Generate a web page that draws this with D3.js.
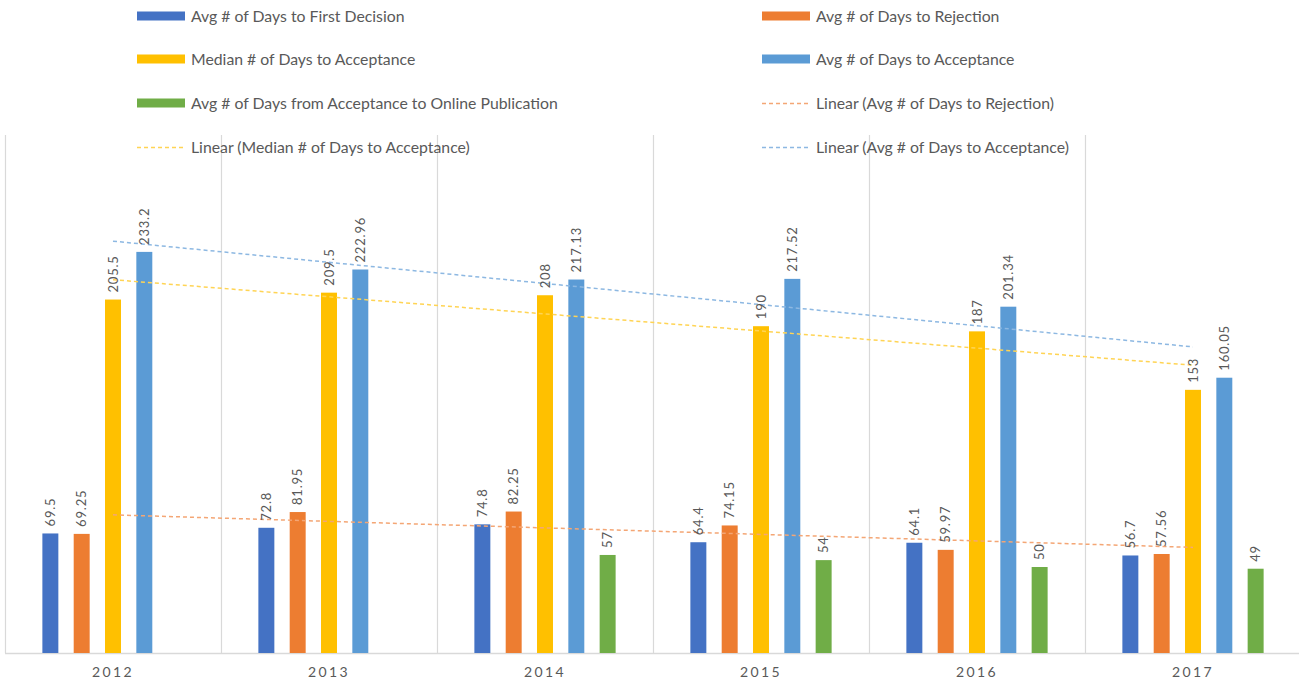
<!DOCTYPE html>
<html>
<head>
<meta charset="utf-8">
<script src="https://cdn.jsdelivr.net/npm/d3@7"></script>
<style>
  html, body { margin: 0; padding: 0; background: #fff; }
  svg { display: block; font-family: Lato, "Open Sans", sans-serif; }
</style>
</head>
<body>
<svg id="chart" width="1299" height="684"></svg>
<script>
// Review turnaround times by year
const years = ["2012", "2013", "2014", "2015", "2016", "2017"];
const firstDecision = [69.5, 72.8, 74.8, 64.4, 64.1, 56.7];
const rejection = [69.25, 81.95, 82.25, 74.15, 59.97, 57.56];
const medianAcceptance = [205.5, 209.5, 208, 190, 187, 153];
const avgAcceptance = [233.2, 222.96, 217.13, 217.52, 201.34, 160.05];
const toPublication = [null, null, 57, 54, 50, 49];

const seriesNames = [
  "Avg # of Days to First Decision",
  "Avg # of Days to Rejection",
  "Median # of Days to Acceptance",
  "Avg # of Days to Acceptance",
  "Avg # of Days from Acceptance to Online Publication"
];
const seriesValues = [firstDecision, rejection, medianAcceptance, avgAcceptance, toPublication];
const colors = ["#4472C4", "#ED7D31", "#FFC000", "#5B9BD5", "#70AD47"];
const trendColors = ["#F4A675", "#FFD454", "#8DB8E2"];
const trendSeries = [1, 2, 3]; // rejection, median, avg acceptance

const svg = d3.select("#chart");
const textColor = "#595959";
const gridColor = "#D9D9D9";

const plotTop = 135, baseline = 653;
const x0 = d3.scaleBand().domain(years).range([5, 1301]).padding(0);
const y = d3.scaleLinear().domain([0, 300]).range([baseline, baseline - 300 * 1.72]);
const x1 = d3.scaleBand().domain(d3.range(5)).range([-78.3, 78.3]).paddingInner(0.49).paddingOuter(0.245);

// vertical category gridlines
svg.append("g").selectAll("line")
  .data(years)
  .join("line")
  .attr("x1", d => x0(d) + 0.5).attr("x2", d => x0(d) + 0.5)
  .attr("y1", plotTop).attr("y2", baseline)
  .attr("stroke", gridColor).attr("stroke-width", 1.2);

// category axis
const xAxis = d3.axisBottom(x0).tickSize(0).tickPadding(14);
const axisG = svg.append("g").attr("transform", `translate(0,${baseline})`).call(xAxis);
axisG.select(".domain").attr("stroke", gridColor).attr("stroke-width", 1.5).attr("d", "M5,0.5H1299");
axisG.selectAll("text")
  .attr("fill", textColor)
  .style("font-size", "14px")
  .style("letter-spacing", "2.4px")
  .style("font-family", "Lato, sans-serif");

// bars
const flat = [];
seriesValues.forEach((vals, s) => vals.forEach((v, i) => {
  if (v !== null) flat.push({ s, year: years[i], v });
}));

const barsG = svg.append("g");
barsG.selectAll("rect")
  .data(flat)
  .join("rect")
  .attr("x", d => x0(d.year) + x0.bandwidth() / 2 + x1(d.s))
  .attr("width", x1.bandwidth())
  .attr("y", d => y(d.v))
  .attr("height", d => baseline - y(d.v))
  .attr("fill", d => colors[d.s]);

// linear trendlines (least squares over category index)
function fit(vals) {
  const pts = vals.map((v, i) => [i + 1, v]).filter(p => p[1] !== null);
  const mx = d3.mean(pts, p => p[0]), my = d3.mean(pts, p => p[1]);
  const sxy = d3.sum(pts, p => (p[0] - mx) * (p[1] - my));
  const sxx = d3.sum(pts, p => (p[0] - mx) ** 2);
  const b = sxy / sxx;
  return xv => my + b * (xv - mx);
}
const trendG = svg.append("g");
trendSeries.forEach((s, k) => {
  const f = fit(seriesValues[s]);
  const line = d3.line()
    .x(d => x0(years[d - 1]) + x0.bandwidth() / 2)
    .y(d => y(f(d)));
  trendG.append("path")
    .attr("d", line([1, years.length]))
    .attr("fill", "none")
    .attr("stroke", trendColors[k])
    .attr("stroke-width", 1.5)
    .attr("stroke-dasharray", "4,3");
});

// value labels
const fmt = v => String(v);
svg.append("g").selectAll("text")
  .data(flat)
  .join("text")
  .attr("transform", d => {
    const cx = x0(d.year) + x0.bandwidth() / 2 + x1(d.s) + x1.bandwidth() / 2;
    return `translate(${cx},${y(d.v) - 7}) rotate(-90)`;
  })
  .attr("dy", "0.35em")
  .attr("fill", textColor)
  .style("font-size", "13px")
  .style("letter-spacing", "0.8px")
  .text(d => fmt(d.v));

// legend (two columns)
const legendItems = [
  { label: seriesNames[0], color: colors[0], type: "bar" },
  { label: seriesNames[1], color: colors[1], type: "bar" },
  { label: seriesNames[2], color: colors[2], type: "bar" },
  { label: seriesNames[3], color: colors[3], type: "bar" },
  { label: seriesNames[4], color: colors[4], type: "bar" },
  { label: "Linear (" + seriesNames[1] + ")", color: trendColors[0], type: "line" },
  { label: "Linear (" + seriesNames[2] + ")", color: trendColors[1], type: "line" },
  { label: "Linear (" + seriesNames[3] + ")", color: trendColors[2], type: "line" }
];
const colX = [137, 762];
const rowY = [16, 59, 103, 147];
const lg = svg.append("g").selectAll("g")
  .data(legendItems)
  .join("g")
  .attr("transform", (d, i) => `translate(${colX[i % 2]},${rowY[Math.floor(i / 2)]})`);
lg.filter(d => d.type === "bar").append("rect")
  .attr("x", 0).attr("y", -4.5).attr("width", 48).attr("height", 9)
  .attr("fill", d => d.color);
lg.filter(d => d.type === "line").append("line")
  .attr("x1", 0).attr("x2", 48).attr("y1", 0.5).attr("y2", 0.5)
  .attr("stroke", d => d.color).attr("stroke-width", 1.5)
  .attr("stroke-dasharray", "4,3");
lg.append("text")
  .attr("x", 54).attr("dy", "0.35em")
  .attr("fill", textColor)
  .style("font-size", "15.8px")
  .text(d => d.label);
</script>
</body>
</html>
